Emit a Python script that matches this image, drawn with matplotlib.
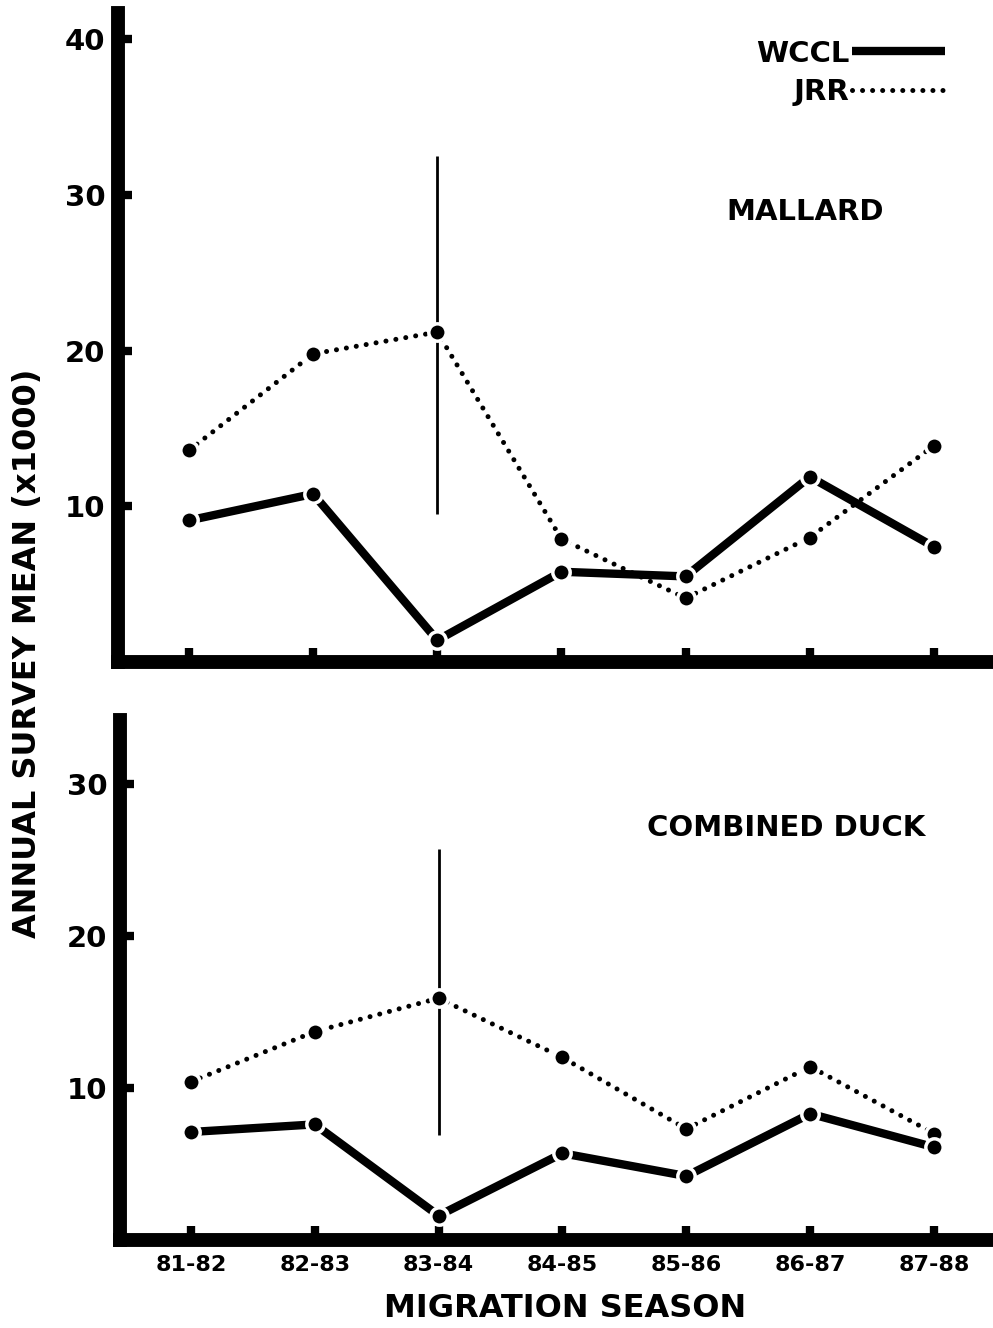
import matplotlib
matplotlib.use("Agg")
from matplotlib import pyplot as plt
from matplotlib.lines import Line2D

plt.rcParams['font.family'] = ['DejaVu Sans']
plt.rcParams['font.weight'] = 'bold'

seasons = ["81-82", "82-83", "83-84", "84-85", "85-86", "86-87", "87-88"]

# mallard (x1000)
mallard_wccl = [9.1, 10.8, 1.4, 5.8, 5.5, 11.9, 7.4]
mallard_jrr = [13.6, 19.8, 21.2, 7.9, 4.1, 8.0, 13.9]
mallard_err = [9.5, 32.5]   # range bar at 83-84

# combined duck (x1000)
duck_wccl = [7.1, 7.6, 1.6, 5.7, 4.2, 8.3, 6.1]
duck_jrr = [10.4, 13.7, 15.9, 12.0, 7.3, 11.4, 7.0]
duck_err = [6.9, 25.7]

xs = list(range(len(seasons)))
err_idx = 2


def draw_panel(ax, wccl, jrr, err, yticks, ymax, title, title_xy):
    ax.vlines(xs[err_idx], err[0], err[1], color="black", lw=2.0, zorder=1)
    ax.plot(xs, jrr, color="black", lw=3.6, linestyle=(0, (0.01, 2.0)),
            dash_capstyle="round", zorder=2)
    ax.plot(xs, wccl, color="black", lw=6, solid_capstyle="butt", zorder=2)
    for vals in (jrr, wccl):
        ax.plot(xs, vals, "o", color="black", ms=12.5, mec="white", mew=2.5, zorder=3)

    ax.set_xlim(-0.572, 6.45)
    ax.set_ylim(0, ymax)
    ax.set_yticks(yticks)
    ax.set_yticklabels([str(t) for t in yticks])
    ax.set_xticks(xs)
    for s in ("top", "right"):
        ax.spines[s].set_visible(False)
    for s in ("left", "bottom"):
        ax.spines[s].set_linewidth(10)
        ax.spines[s].set_capstyle("projecting")
    ax.tick_params(direction="in", length=10, width=6, color="black")
    ax.tick_params(axis="y", pad=9, labelsize=21)
    ax.tick_params(axis="x", pad=11, labelsize=16)
    ax.text(title_xy[0], title_xy[1], title, transform=ax.transAxes,
            ha="center", va="center", fontsize=21, fontweight="bold")


fig = plt.figure(figsize=(9.93, 13.28), dpi=100)
ax1 = fig.add_axes([0.1188, 0.5015, 0.878, 0.4887])
ax2 = fig.add_axes([0.1208, 0.0663, 0.876, 0.3916])

draw_panel(ax1, mallard_wccl, mallard_jrr, mallard_err, [10, 20, 30, 40], 41.7,
           "MALLARD", (0.788, 0.693))
ax1.set_xticklabels([])
draw_panel(ax2, duck_wccl, duck_jrr, duck_err, [10, 20, 30], 34.2,
           "COMBINED DUCK", (0.766, 0.792))
ax2.set_xticklabels(seasons)

handles = [
    Line2D([], [], color="black", lw=6, solid_capstyle="butt"),
    Line2D([], [], color="black", lw=3.6, linestyle=(0, (0.01, 2.0)), dash_capstyle="round"),
]
leg = ax1.legend(handles, ["WCCL", "JRR"], markerfirst=False, frameon=False,
                 loc="upper right", bbox_to_anchor=(960 / 993, 1 - 25 / 1328),
                 bbox_transform=fig.transFigure, borderpad=0, handlelength=3.2,
                 handletextpad=0.1, labelspacing=0.35,
                 prop={"size": 21, "weight": "bold"})

fig.text(0.028, 0.508, "ANNUAL SURVEY MEAN (x1000)", rotation=90, ha="center",
         va="center", fontsize=23, fontweight="bold")
fig.text(0.569, 0.015, "MIGRATION SEASON", ha="center", va="center", fontsize=23)

fig.savefig("out.png", dpi=100)
